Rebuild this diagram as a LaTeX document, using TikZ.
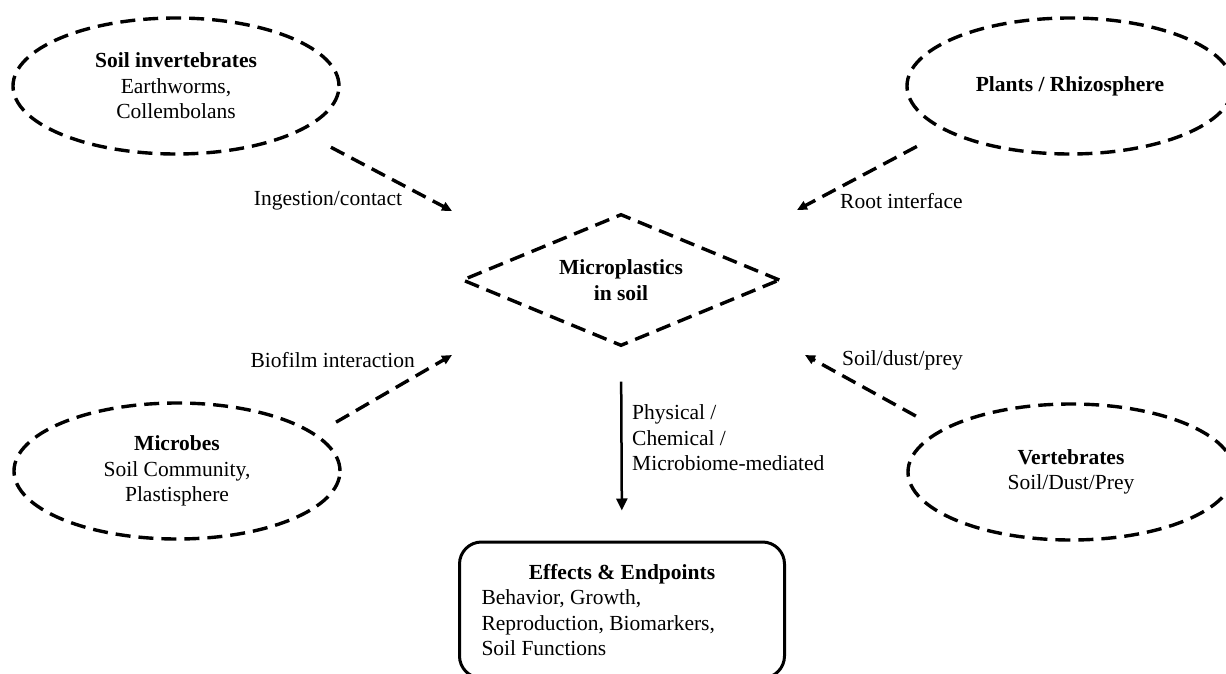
\documentclass[tikz,border=0pt]{standalone}
\usepackage{fontspec}
\setmainfont{Liberation Serif}
\usetikzlibrary{shapes.geometric,arrows.meta}
\begin{document}
\begin{tikzpicture}[x=1pt,y=-1pt,
  every node/.style={font=\fontsize{21.5}{25.5}\selectfont, inner sep=0pt},
  dashpat/.style={line width=3.4pt, dash pattern=on 15pt off 8pt},
  group/.style={ellipse, draw, dashpat, minimum width=326pt, minimum height=136pt, align=center},
  conn/.style={dashpat, -{Triangle[length=10pt,width=9pt]}},
  lbl/.style={align=left}
]
\useasboundingbox (0,0) rectangle (1226,674);
\clip (0,0) rectangle (1226,674);

\node[group] (inv) at (176,86) {\textbf{Soil invertebrates}\\Earthworms,\\Collembolans};
\node[group] (pla) at (1070,86) {\textbf{Plants / Rhizosphere}};
\node[group] (mic) at (177,471) {\textbf{Microbes}\\Soil Community,\\Plastisphere};
\node[group] (ver) at (1071,472) {\textbf{Vertebrates}\\Soil/Dust/Prey};

\node[diamond, aspect=2.4, draw, dashpat, minimum width=318pt, minimum height=132pt, align=center] (mp) at (621,280)
  {\textbf{Microplastics}\\\textbf{in soil}};

\node[draw, line width=3pt, rounded corners=22pt, minimum width=325pt, minimum height=136pt] (eff) at (622,610)
  {\parbox{281pt}{\centering\textbf{Effects \& Endpoints}\par\raggedright Behavior, Growth,\\Reproduction, Biomarkers,\\Soil Functions}};

\coordinate (tA) at (452,211);
\coordinate (tB) at (797,210);
\coordinate (tC) at (452,355);
\coordinate (tD) at (805,355);

\draw[conn, shorten <=34pt] (inv.-20) -- (tA);
\draw[conn, shorten <=32pt] (pla.200) -- (tB);
\draw[conn, shorten <=23pt] (mic.15) -- (tC);
\draw[conn, shorten <=28pt] (ver.162) -- (tD);

\draw[line width=2.5pt, -{Triangle[length=12pt,width=11pt]}, shorten <=34pt, shorten >=30pt] (mp.south) -- (eff.north);

\node (lA) at (328,201) {Ingestion/contact};
\node[anchor=west] (lB) at (840,201) {Root interface};
\node[anchor=east] (lC) at (415,360) {Biofilm interaction};
\node[anchor=west] (lD) at (842,360) {Soil/dust/prey};
\node[lbl, anchor=west] (lE) at (632,438) {Physical /\\Chemical /\\Microbiome-mediated};
\end{tikzpicture}
\end{document}
